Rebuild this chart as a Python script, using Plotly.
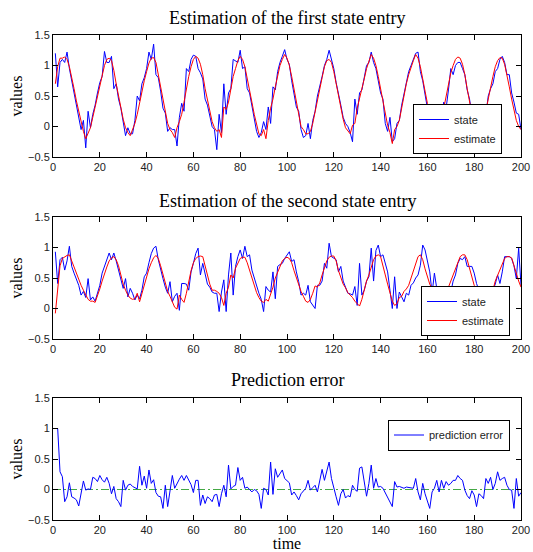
import plotly.graph_objects as go

t = list(range(1, 201))

state1 = [1.20, 0.65, 1.05, 1.10, 1.05, 1.22, 0.95, 0.75, 0.60, 0.40,
 0.15, -0.05, 0.10, -0.35, 0.25, -0.02, 0.20, 0.35, 0.55, 0.72,
 0.82, 1.23, 1.05, 1.05, 1.15, 0.62, 0.70, 0.45, 0.30, 0.05,
 -0.15, -0.02, -0.12, -0.12, 0.10, 0.50, 0.42, 0.70, 0.80, 0.95,
 1.22, 1.10, 1.35, 0.85, 0.80, 0.58, 0.30, 0.22, -0.08, -0.02,
 -0.05, -0.05, -0.32, 0.15, 0.38, 0.25, 0.95, 0.90, 1.10, 1.17,
 1.15, 0.95, 0.88, 0.78, 0.45, 0.35, 0.15, 0.00, -0.05, -0.38,
 0.20, -0.10, 0.70, 0.20, 0.55, 0.62, 1.10, 1.08, 1.05, 1.25,
 0.95, 0.98, 0.62, 0.55, 0.35, 0.15, -0.08, -0.18, -0.10, 0.08,
 -0.05, 0.32, 0.05, 0.65, 0.60, 0.90, 1.05, 1.15, 1.26, 1.10,
 1.02, 0.75, 0.55, 0.32, 0.25, -0.05, -0.18, -0.15, 0.05, -0.20,
 0.10, 0.25, 0.50, 0.65, 0.82, 1.00, 1.10, 1.25, 1.12, 0.95,
 0.72, 0.50, 0.35, 0.15, 0.05, 0.00, -0.10, -0.25, 0.45, 0.20,
 0.55, 0.60, 0.80, 1.00, 1.05, 1.22, 1.05, 0.95, 0.75, 0.55,
 0.45, 0.05, -0.08, 0.15, -0.25, -0.20, 0.05, 0.10, 0.35, 0.55,
 0.75, 0.90, 1.00, 1.10, 1.20, 1.22, 0.90, 0.75, 0.50, 0.30,
 0.20, 0.05, -0.05, -0.10, 0.00, 0.15, 0.40, 0.30, 0.60, 0.95,
 0.85, 1.00, 1.05, 1.05, 0.95, 0.85, 0.60, 0.45, 0.20, 0.05,
 -0.05, -0.10, 0.00, 0.15, 0.20, 0.50, 0.62, 0.70, 0.90, 0.95,
 1.10, 1.15, 1.05, 0.85, 0.85, 0.55, 0.40, 0.22, 0.20, -0.05]

estimate1 = [0.70, 0.98, 1.12, 1.12, 1.14, 1.10, 0.98, 0.82, 0.62, 0.42,
 0.25, 0.08, -0.08, -0.20, -0.10, -0.02, 0.15, 0.32, 0.50, 0.68,
 0.85, 1.00, 1.10, 1.12, 1.08, 0.92, 0.70, 0.50, 0.30, 0.12,
 -0.02, -0.10, -0.15, -0.05, 0.05, 0.20, 0.40, 0.60, 0.75, 0.90,
 1.04, 1.12, 1.13, 1.05, 0.85, 0.62, 0.40, 0.22, 0.05, -0.05,
 -0.10, -0.18, -0.02, 0.08, 0.20, 0.40, 0.62, 0.82, 0.98, 1.10,
 1.15, 1.12, 1.02, 0.85, 0.62, 0.42, 0.25, 0.08, -0.02, -0.08,
 -0.05, -0.18, 0.32, 0.28, 0.40, 0.60, 0.82, 0.95, 1.08, 1.15,
 1.10, 0.98, 0.80, 0.60, 0.40, 0.20, 0.02, -0.12, -0.15, -0.05,
 -0.20, 0.10, 0.30, 0.45, 0.65, 0.85, 1.00, 1.10, 1.18, 1.12,
 1.00, 0.82, 0.60, 0.40, 0.20, 0.00, -0.05, -0.12, -0.12, -0.08,
 0.05, 0.25, 0.42, 0.60, 0.80, 0.98, 1.08, 1.10, 1.05, 0.90,
 0.70, 0.50, 0.30, 0.12, -0.02, -0.08, -0.12, 0.02, 0.05, 0.30,
 0.45, 0.60, 0.78, 0.95, 1.08, 1.18, 1.12, 1.00, 0.82, 0.62,
 0.42, 0.20, 0.02, -0.10, -0.28, -0.05, 0.00, 0.10, 0.30, 0.52,
 0.70, 0.85, 0.98, 1.08, 1.18, 1.12, 0.98, 0.80, 0.58, 0.38,
 0.18, 0.00, -0.10, -0.12, -0.05, 0.10, 0.30, 0.50, 0.70, 0.88,
 1.00, 1.10, 1.14, 1.12, 1.02, 0.85, 0.62, 0.40, 0.18, 0.00,
 -0.10, -0.12, -0.05, 0.10, 0.25, 0.45, 0.65, 0.82, 0.98, 1.08,
 1.13, 1.12, 1.02, 0.85, 0.65, 0.45, 0.28, 0.10, 0.00, -0.05]

state2 = [0.93, 0.41, 0.80, 0.84, 0.63, 0.78, 1.02, 0.69, 0.58, 0.47,
 0.38, 0.22, 0.28, 0.18, 0.49, 0.14, 0.19, 0.12, 0.25, 0.38,
 0.58, 0.70, 0.78, 0.91, 0.80, 0.91, 0.78, 0.63, 0.45, 0.33,
 0.49, 0.19, 0.33, 0.25, 0.14, 0.22, 0.16, 0.30, 0.52, 0.58,
 0.75, 0.90, 0.99, 1.02, 0.80, 0.63, 0.49, 0.35, 0.25, 0.44,
 0.11, 0.20, 0.25, -0.03, 0.41, 0.41, 0.40, 0.30, 0.60, 0.74,
 0.90, 0.99, 0.55, 0.74, 0.55, 0.40, 0.35, 0.27, 0.25, 0.25,
 -0.05, 0.27, 0.47, -0.05, 0.55, 0.91, 0.22, 0.69, 0.85, 0.96,
 0.82, 1.02, 0.85, 0.88, 0.63, 0.50, 0.36, 0.25, 0.15, -0.05,
 0.36, 0.30, 0.27, 0.60, 0.16, 0.69, 0.72, 0.74, 0.82, 0.88,
 0.93, 0.77, 0.80, 0.60, 0.44, 0.22, 0.25, 0.22, 0.38, 0.11,
 0.05, 0.00, 0.38, 0.38, 0.45, 0.74, 0.66, 1.07, 0.85, 0.82,
 0.80, 0.60, 0.69, 0.45, 0.33, 0.25, 0.24, 0.22, 0.36, 0.05,
 0.74, 0.22, 0.30, 0.45, 0.52, 0.99, 0.45, 0.95, 1.04, 0.85,
 0.88, 0.75, 0.60, 0.30, 0.00, 0.52, 0.00, 0.27, 0.18, 0.11,
 0.25, 0.22, 0.38, 0.42, 0.50, 0.55, 0.71, 1.04, 0.96, 0.80,
 0.60, 0.25, 0.58, 0.33, 0.36, 0.25, 0.20, 0.11, 0.27, 0.27,
 0.45, 0.55, 0.74, 0.82, 0.80, 0.85, 0.69, 0.69, 0.69, 0.58,
 0.41, 0.30, 0.25, 0.30, 0.20, 0.14, 0.11, 0.30, 0.40, 0.55,
 0.41, 0.60, 0.85, 0.85, 0.85, 0.82, 0.70, 0.49, 0.99, 0.38]

estimate2 = [-0.08, 0.35, 0.70, 0.82, 0.85, 0.87, 0.88, 0.78, 0.65, 0.55,
 0.45, 0.38, 0.30, 0.22, 0.15, 0.12, 0.12, 0.10, 0.20, 0.32,
 0.45, 0.58, 0.68, 0.78, 0.83, 0.85, 0.80, 0.70, 0.55, 0.40,
 0.30, 0.22, 0.17, 0.15, 0.16, 0.25, 0.11, 0.25, 0.40, 0.55,
 0.65, 0.75, 0.83, 0.87, 0.82, 0.70, 0.55, 0.40, 0.28, 0.20,
 0.10, 0.02, -0.01, 0.22, 0.15, 0.10, 0.25, 0.45, 0.62, 0.75,
 0.82, 0.85, 0.86, 0.85, 0.70, 0.52, 0.40, 0.30, 0.30, 0.28,
 0.25, 0.18, 0.05, 0.25, 0.35, 0.55, 0.50, 0.66, 0.75, 0.82,
 0.84, 0.84, 0.75, 0.62, 0.48, 0.35, 0.26, 0.18, 0.12, 0.10,
 0.15, 0.12, 0.22, 0.35, 0.50, 0.60, 0.70, 0.78, 0.82, 0.84,
 0.82, 0.75, 0.62, 0.50, 0.38, 0.28, 0.20, 0.12, 0.10, 0.15,
 0.25, 0.37, 0.35, 0.42, 0.55, 0.68, 0.78, 0.84, 0.86, 0.86,
 0.78, 0.62, 0.50, 0.40, 0.34, 0.26, 0.22, 0.18, 0.12, 0.08,
 0.04, 0.15, 0.32, 0.45, 0.55, 0.68, 0.80, 0.86, 0.88, 0.85,
 0.72, 0.55, 0.40, 0.25, 0.12, 0.05, 0.08, 0.18, 0.20, 0.28,
 0.32, 0.38, 0.50, 0.62, 0.75, 0.85, 0.88, 0.80, 0.65, 0.52,
 0.40, 0.32, 0.25, 0.20, 0.15, 0.14, 0.18, 0.25, 0.35, 0.45,
 0.54, 0.65, 0.76, 0.85, 0.88, 0.88, 0.80, 0.65, 0.50, 0.38,
 0.32, 0.26, 0.20, 0.15, 0.10, 0.10, 0.20, 0.30, 0.45, 0.55,
 0.65, 0.75, 0.82, 0.85, 0.85, 0.83, 0.70, 0.55, 0.45, 0.35]

pred_error = [1.00, 1.00, 0.29, 0.21, -0.20, -0.12, 0.11, -0.12, -0.14, -0.17,
 -0.27, -0.05, 0.14, -0.01, 0.01, 0.00, 0.20, 0.18, 0.13, 0.23,
 0.16, 0.12, 0.20, 0.10, -0.07, 0.05, -0.15, -0.20, -0.28, 0.15,
 -0.01, 0.07, 0.09, 0.05, 0.03, 0.01, 0.38, 0.07, 0.22, 0.02,
 0.32, 0.10, 0.16, -0.05, -0.11, -0.12, -0.31, 0.07, -0.28, 0.02,
 0.23, 0.02, 0.10, 0.17, 0.23, 0.15, 0.23, 0.15, 0.08, -0.05,
 0.15, 0.15, -0.26, -0.09, -0.23, -0.12, -0.15, -0.20, -0.09, -0.08,
 -0.28, -0.07, 0.07, -0.12, 0.40, 0.01, 0.05, 0.07, 0.36, 0.15,
 0.20, 0.02, 0.04, 0.00, -0.04, 0.00, -0.02, -0.08, -0.31, 0.02,
 0.00, -0.09, 0.45, -0.08, 0.34, 0.20, 0.25, 0.32, 0.18, 0.15,
 0.11, -0.09, -0.04, -0.10, -0.17, -0.07, -0.02, 0.02, 0.15, -0.01,
 0.03, 0.07, -0.04, 0.15, 0.33, 0.15, 0.30, 0.45, 0.18, 0.05,
 -0.12, -0.26, -0.07, 0.00, -0.14, -0.10, -0.12, 0.07, 0.00, -0.03,
 0.35, 0.37, 0.15, -0.11, 0.10, 0.40, 0.02, 0.18, 0.04, 0.05,
 0.02, -0.05, -0.12, -0.20, -0.28, 0.13, 0.04, 0.05, 0.03, 0.02,
 0.04, 0.03, 0.02, 0.02, 0.18, -0.04, -0.17, 0.10, -0.07, -0.20,
 -0.31, -0.04, 0.02, 0.15, -0.04, 0.15, 0.02, 0.13, 0.07, 0.10,
 0.15, 0.15, 0.23, 0.18, 0.15, -0.01, -0.10, -0.15, -0.02, -0.09,
 -0.28, -0.07, -0.10, -0.15, 0.18, 0.10, 0.20, 0.00, 0.10, 0.29,
 0.15, 0.18, 0.20, 0.07, 0.00, -0.01, -0.31, 0.18, -0.11, -0.05]

titles = ["Estimation of the first state entry",
          "Estimation of the second state entry",
          "Prediction error"]
x_ticks = [0, 20, 40, 60, 80, 100, 120, 140, 160, 180, 200]
y_ticks = [-0.5, 0, 0.5, 1, 1.5]

W, H = 533, 552
ML, MR, MT, MB = 53, 12, 35, 32
PH = H - MT - MB
PW = W - ML - MR

def frac(px_top, px_bot):
    return [(H - MB - px_bot) / PH, (H - MB - px_top) / PH]

def py(px):
    return (H - MB - px) / PH

def px_x(px):
    return (px - ML) / PW

doms = [frac(35, 157), frac(217, 339), frac(398, 520)]

BLUE = "#0000ff"
RED = "#ff0000"
serif = "Liberation Serif, Times New Roman, serif"
sans = "Liberation Sans, Arial, sans-serif"

fig = go.Figure()
fig.add_trace(go.Scatter(x=t, y=state1, mode="lines", name="state",
                         line=dict(color=BLUE, width=1), xaxis="x", yaxis="y", legend="legend"))
fig.add_trace(go.Scatter(x=t, y=estimate1, mode="lines", name="estimate",
                         line=dict(color=RED, width=1), xaxis="x", yaxis="y", legend="legend"))
fig.add_trace(go.Scatter(x=t, y=state2, mode="lines", name="state",
                         line=dict(color=BLUE, width=1), xaxis="x2", yaxis="y2", legend="legend2"))
fig.add_trace(go.Scatter(x=t, y=estimate2, mode="lines", name="estimate",
                         line=dict(color=RED, width=1), xaxis="x2", yaxis="y2", legend="legend2"))
fig.add_trace(go.Scatter(x=t, y=pred_error, mode="lines", name="prediction error",
                         line=dict(color=BLUE, width=1), xaxis="x3", yaxis="y3", legend="legend3"))

fig.add_shape(type="line", xref="x3 domain", yref="y3", x0=0, x1=1, y0=0, y1=0,
              line=dict(color="#44a844", width=1, dash="8px,3px,2px,3px"), layer="below")

axis_common = dict(range=[0, 200], tickvals=x_ticks, ticks="inside", ticklen=5,
                   showline=True, linecolor="black", linewidth=1, mirror="allticks",
                   showgrid=False, zeroline=False, tickcolor="black",
                   tickfont=dict(family=sans, size=11, color="#222"))
yaxis_common = dict(range=[-0.5, 1.5], tickvals=y_ticks, ticks="inside", ticklen=5,
                    showline=True, linecolor="black", linewidth=1, mirror="allticks",
                    showgrid=False, zeroline=False, tickcolor="black",
                    tickfont=dict(family=sans, size=11, color="#222"),
                    title=dict(text="values", font=dict(family=serif, size=16, color="black"),
                               standoff=1))

layout = dict(width=W, height=H, margin=dict(l=ML, r=MR, t=MT, b=MB, autoexpand=False),
              plot_bgcolor="white", paper_bgcolor="white", showlegend=True)
for i in range(3):
    s = "" if i == 0 else str(i + 1)
    xa = dict(axis_common, domain=[0, 1], anchor="y" + s)
    if i == 2:
        xa["title"] = dict(text="time", font=dict(family=serif, size=16, color="black"), standoff=0)
    layout["xaxis" + s] = xa
    layout["yaxis" + s] = dict(yaxis_common, domain=doms[i], anchor="x" + s)

leg_common = dict(bgcolor="white", bordercolor="black", borderwidth=1,
                  font=dict(family=sans, size=11, color="#222"),
                  xanchor="left", tracegroupgap=0, itemwidth=30)
layout["legend"] = dict(leg_common, x=px_x(413), y=py(154), yanchor="bottom")
layout["legend2"] = dict(leg_common, x=px_x(421), y=py(336), yanchor="bottom")
layout["legend3"] = dict(leg_common, x=px_x(388), y=py(435), yanchor="middle")

annotations = []
title_bottom_px = [30, 213, 392]
for i in range(3):
    annotations.append(dict(text=titles[i], xref="paper", yref="paper", x=0.5,
                            y=py(title_bottom_px[i]), xanchor="center", yanchor="bottom",
                            showarrow=False, font=dict(family=serif, size=18, color="black")))
layout["annotations"] = annotations

fig.update_layout(**layout)
fig.write_html("out.html", config={"displayModeBar": False},
               post_script="document.body.style.margin='0';document.body.style.overflow='hidden';")
